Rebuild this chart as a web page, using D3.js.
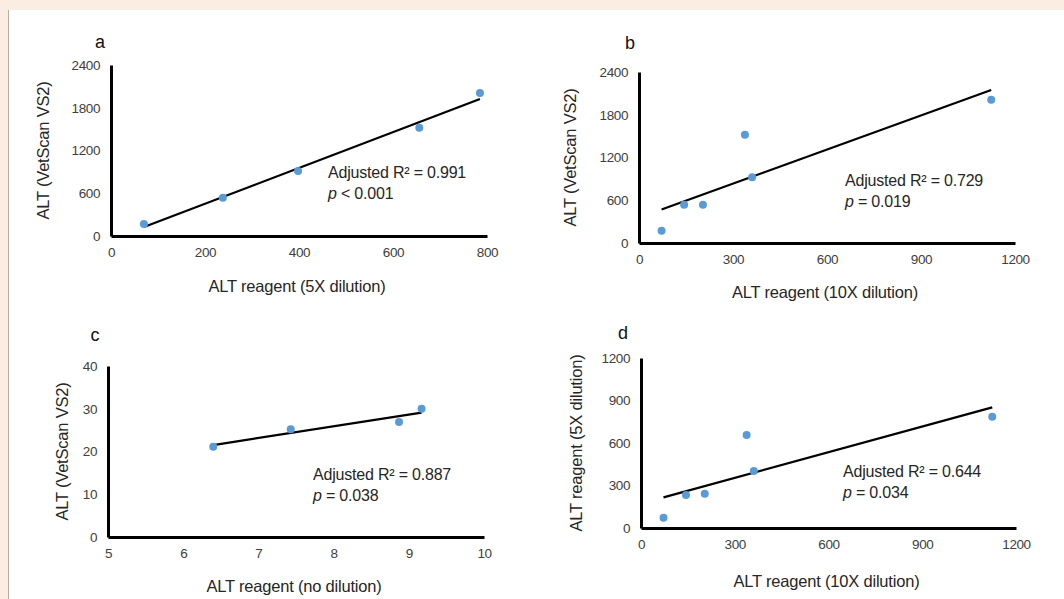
<!DOCTYPE html>
<html>
<head>
<meta charset="utf-8">
<script src="https://cdn.jsdelivr.net/npm/d3@7"></script>
<style>
  html, body { margin: 0; padding: 0; background: #fcede2; }
  svg { display: block; }
  text { font-family: "Liberation Sans", Arial, sans-serif; }
</style>
</head>
<body>
<svg id="chart" width="1064" height="599"></svg>
<script>
// ---- data ----
const vetscanA = [168, 537, 912, 1520, 2007];          // ALT VetScan VS2 (panel a)
const reagent5xA = [70, 238, 398, 656, 785];           // ALT reagent 5X (panel a)

const reagent10x = [72, 144, 204, 338, 361, 1124];     // ALT reagent 10X (panels b, d)
const vetscanB = [173, 538, 538, 1520, 922, 2011];     // ALT VetScan VS2 (panel b)
const reagent5xD = [72, 233, 241, 657, 402, 786];      // ALT reagent 5X (panel d)

const reagentNoDil = [6.40, 7.43, 8.87, 9.17];         // ALT reagent no dilution (panel c)
const vetscanC = [21.1, 25.2, 26.9, 30.0];             // ALT VetScan VS2 (panel c)

const panelLabels = ["a", "b", "c", "d"];
const xTitles = ["ALT reagent (5X dilution)", "ALT reagent (10X dilution)",
                 "ALT reagent (no dilution)", "ALT reagent (10X dilution)"];
const yTitles = ["ALT (VetScan VS2)", "ALT (VetScan VS2)",
                 "ALT (VetScan VS2)", "ALT reagent (5X dilution)"];
const r2Text = ["0.991", "0.729", "0.887", "0.644"];
const pText = ["< 0.001", "= 0.019", "= 0.038", "= 0.034"];

const xTicks = [[0, 200, 400, 600, 800], [0, 300, 600, 900, 1200],
                [5, 6, 7, 8, 9, 10], [0, 300, 600, 900, 1200]];
const yTicks = [[0, 600, 1200, 1800, 2400], [0, 600, 1200, 1800, 2400],
                [0, 10, 20, 30, 40], [0, 300, 600, 900, 1200]];

const xs = [reagent5xA, reagent10x, reagentNoDil, reagent10x];
const ys = [vetscanA, vetscanB, vetscanC, reagent5xD];

// ---- layout (pixel frames of each plot) ----
const frames = [
  { x0: 111, x1: 487, yTop: 65, y0: 236, lab: [100, 48], ann: [328, 178], yt: 49, xt: 292 },
  { x0: 639, x1: 1015, yTop: 72, y0: 243, lab: [630, 49], ann: [845, 186], yt: 576, xt: 298 },
  { x0: 108, x1: 484, yTop: 366, y0: 537, lab: [95, 341], ann: [313, 480], yt: 68, xt: 592 },
  { x0: 641, x1: 1016, yTop: 358, y0: 528, lab: [623, 339], ann: [843, 477], yt: 582, xt: 587 }
];

const svg = d3.select("#chart");

// page background: white card with beige margin
svg.append("rect").attr("x", 8).attr("y", 10).attr("width", 1056).attr("height", 589).attr("fill", "#ffffff");
svg.append("line").attr("x1", 8.5).attr("x2", 8.5).attr("y1", 10).attr("y2", 599)
  .attr("stroke", "#b9aea4").attr("stroke-width", 1);

function fit(x, y) {
  const mx = d3.mean(x), my = d3.mean(y);
  const sxy = d3.sum(x, (v, i) => (v - mx) * (y[i] - my));
  const sxx = d3.sum(x, v => (v - mx) * (v - mx));
  const b = sxy / sxx;
  return { b, a: my - b * mx };
}

frames.forEach((f, i) => {
  const g = svg.append("g");
  const xT = xTicks[i], yT = yTicks[i];
  const x = d3.scaleLinear().domain([xT[0], xT[xT.length - 1]]).range([f.x0, f.x1]);
  const y = d3.scaleLinear().domain([yT[0], yT[yT.length - 1]]).range([f.y0, f.yTop]);

  const xAxis = g.append("g").attr("transform", `translate(0,${f.y0})`)
    .call(d3.axisBottom(x).tickValues(xT).tickFormat(d3.format("d")).tickSize(0).tickPadding(11));
  const yAxis = g.append("g").attr("transform", `translate(${f.x0},0)`)
    .call(d3.axisLeft(y).tickValues(yT).tickFormat(d3.format("d")).tickSize(0).tickPadding(11));
  [xAxis, yAxis].forEach(ax => {
    ax.select(".domain").attr("stroke", "#000").attr("stroke-width", 3);
    ax.selectAll("text").attr("font-size", 13.5).attr("fill", "#404040")
      .attr("letter-spacing", -0.4)
      .attr("font-family", "'Liberation Sans', Arial, sans-serif");
  });

  // regression line
  const xv = xs[i], yv = ys[i];
  const m = fit(xv, yv);
  const ext = d3.extent(xv);
  g.append("line")
    .attr("x1", x(ext[0])).attr("y1", y(m.a + m.b * ext[0]))
    .attr("x2", x(ext[1])).attr("y2", y(m.a + m.b * ext[1]))
    .attr("stroke", "#000").attr("stroke-width", 2.2);

  // points
  g.selectAll("circle").data(xv).enter().append("circle")
    .attr("cx", d => x(d)).attr("cy", (d, j) => y(yv[j]))
    .attr("r", 4).attr("fill", "#5b9bd5");

  // panel label
  g.append("text").attr("x", f.lab[0]).attr("y", f.lab[1])
    .attr("text-anchor", "middle").attr("font-size", 18).attr("fill", "#111")
    .text(panelLabels[i]);

  // axis titles
  g.append("text").attr("x", (f.x0 + f.x1) / 2 - 2).attr("y", f.xt)
    .attr("text-anchor", "middle").attr("font-size", 16.5).attr("fill", "#262626")
    .attr("letter-spacing", -0.2)
    .text(xTitles[i]);
  g.append("text")
    .attr("transform", `translate(${f.yt},${(f.yTop + f.y0) / 2}) rotate(-90)`)
    .attr("text-anchor", "middle").attr("font-size", 16.5).attr("fill", "#262626")
    .attr("letter-spacing", -0.2)
    .text(yTitles[i]);

  // statistics annotation
  const ann = g.append("text").attr("x", f.ann[0]).attr("y", f.ann[1])
    .attr("font-size", 16).attr("fill", "#262626").attr("letter-spacing", -0.2);
  ann.append("tspan").text(`Adjusted R² = ${r2Text[i]}`);
  const p = g.append("text").attr("x", f.ann[0]).attr("y", f.ann[1] + 21)
    .attr("font-size", 16).attr("fill", "#262626").attr("letter-spacing", -0.2);
  p.append("tspan").attr("font-style", "italic").text("p");
  p.append("tspan").text(` ${pText[i]}`);
});
</script>
</body>
</html>
